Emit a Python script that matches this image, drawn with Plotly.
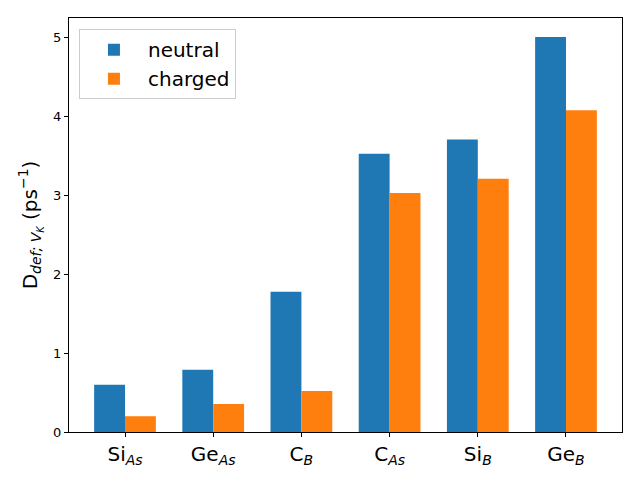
import plotly.graph_objects as go

categories = ["Si<sub><i>As</i></sub>", "Ge<sub><i>As</i></sub>", "C<sub><i>B</i></sub>",
              "C<sub><i>As</i></sub>", "Si<sub><i>B</i></sub>", "Ge<sub><i>B</i></sub>"]
neutral = [0.60, 0.79, 1.78, 3.53, 3.71, 5.01]
charged = [0.20, 0.355, 0.52, 3.03, 3.21, 4.08]
series_names = ["neutral", "charged"]
colors = ["#1f77b4", "#ff7f0e"]
y_ticks = [0, 1, 2, 3, 4, 5]

width = 0.35
idx = list(range(len(categories)))

fig = go.Figure()
for name, vals, col, sign in [(series_names[0], neutral, colors[0], -1),
                              (series_names[1], charged, colors[1], 1)]:
    fig.add_trace(go.Bar(
        x=[i + sign * width / 2 for i in idx], y=vals, width=width,
        name=name, marker=dict(color=col, line=dict(width=0)),
    ))

axis_common = dict(showline=True, linecolor="black", linewidth=1, mirror=True,
                   ticks="outside", tickcolor="black", ticklen=4,
                   showgrid=False, zeroline=False, automargin=False)
fig.update_layout(
    width=632, height=472,
    paper_bgcolor="white", plot_bgcolor="white",
    font=dict(family="DejaVu Sans", color="black"),
    margin=dict(l=61, r=18, t=10, b=48, autoexpand=False),
    xaxis=dict(range=[-0.635, 5.635], tickvals=idx, ticktext=categories,
               tickfont=dict(size=20), **axis_common),
    yaxis=dict(range=[0, 5.25], tickvals=y_ticks, tickfont=dict(size=13),
               title=dict(text="D<sub><i>def; V<sub>K</sub></i></sub> (ps<sup>−1</sup>)",
                          font=dict(size=20), standoff=10),
               **axis_common),
    legend=dict(x=0.018, y=0.973, xanchor="left", yanchor="top",
                font=dict(size=20), bordercolor="#cccccc", borderwidth=1,
                bgcolor="rgba(255,255,255,0.8)", itemwidth=58),
    showlegend=True,
)
fig.write_html("out.html")
